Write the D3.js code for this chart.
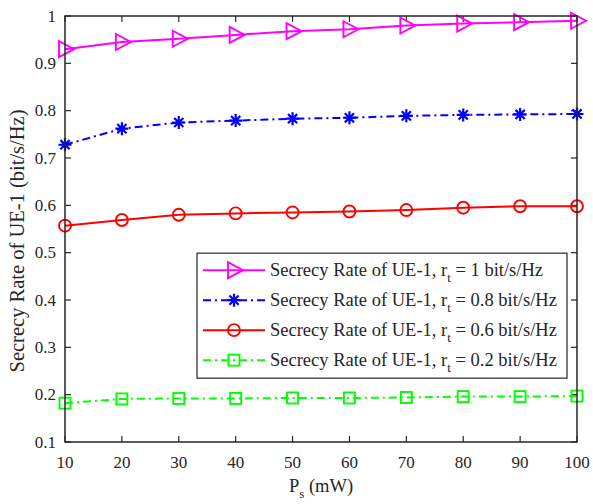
<!DOCTYPE html>
<html>
<head>
<meta charset="utf-8">
<script src="https://cdn.jsdelivr.net/npm/d3@7"></script>
<style>
  body { margin: 0; background: #fff; }
  text { font-family: "Liberation Serif", "Times New Roman", serif; fill: #262626; }
</style>
</head>
<body>
<svg id="chart" width="593" height="504"></svg>
<script>
var power = [10, 20, 30, 40, 50, 60, 70, 80, 90, 100]
var rate1 = [0.930, 0.945, 0.952, 0.960, 0.968, 0.972, 0.980, 0.984, 0.987, 0.990]
var rate08 = [0.728, 0.762, 0.775, 0.779, 0.783, 0.785, 0.789, 0.791, 0.792, 0.793]
var rate06 = [0.557, 0.569, 0.580, 0.583, 0.585, 0.587, 0.590, 0.595, 0.598, 0.598]
var rate02 = [0.182, 0.191, 0.192, 0.192, 0.193, 0.193, 0.194, 0.196, 0.196, 0.197]
var xTicks = [10, 20, 30, 40, 50, 60, 70, 80, 90, 100]
var yTicks = [0.1, 0.2, 0.3, 0.4, 0.5, 0.6, 0.7, 0.8, 0.9, 1]
var rtLabels = ['1', '0.8', '0.6', '0.2']

var series = [
  {vals: rate1, rt: rtLabels[0], color: '#ff00ff', dash: null, marker: 'tri'},
  {vals: rate08, rt: rtLabels[1], color: '#0000ff', dash: '8,4,2,4', marker: 'star'},
  {vals: rate06, rt: rtLabels[2], color: '#ff0000', dash: null, marker: 'circle'},
  {vals: rate02, rt: rtLabels[3], color: '#00ff00', dash: '8,4,2,4', marker: 'square'},
]

var margin = {left: 65, right: 16, top: 16, bottom: 62}
var width = 593 - margin.left - margin.right
var height = 504 - margin.top - margin.bottom

var svg = d3.select('#chart')
var g = svg.append('g').attr('transform', `translate(${margin.left},${margin.top})`)

var x = d3.scaleLinear().domain([10, 100]).range([0, width])
var y = d3.scaleLinear().domain([0.1, 1]).range([height, 0])

var axisColor = '#262626'

// ticks inward on all sides
var tl = 6
xTicks.forEach(t => {
  g.append('line').attr('x1', x(t)).attr('x2', x(t)).attr('y1', height).attr('y2', height - tl).attr('stroke', axisColor).attr('stroke-width', 1.2)
  g.append('line').attr('x1', x(t)).attr('x2', x(t)).attr('y1', 0).attr('y2', tl).attr('stroke', axisColor).attr('stroke-width', 1.2)
  g.append('text').attr('x', x(t)).attr('y', height + 26).attr('text-anchor', 'middle')
    .style('font-size', '17px').text(t)
})
yTicks.forEach(t => {
  g.append('line').attr('x1', 0).attr('x2', tl).attr('y1', y(t)).attr('y2', y(t)).attr('stroke', axisColor).attr('stroke-width', 1.2)
  g.append('line').attr('x1', width).attr('x2', width - tl).attr('y1', y(t)).attr('y2', y(t)).attr('stroke', axisColor).attr('stroke-width', 1.2)
  g.append('text').attr('x', -9).attr('y', y(t)).attr('dy', '0.33em').attr('text-anchor', 'end')
    .style('font-size', '17px').text(t)
})

var line = d3.line().x((d, i) => x(power[i])).y(d => y(d))

function drawMarker(sel, type, color, cx, cy) {
  if (type == 'tri') {
    sel.append('path').attr('d', `M${cx - 6},${cy - 8} L${cx + 9},${cy} L${cx - 6},${cy + 8} Z`)
      .attr('fill', 'none').attr('stroke', color).attr('stroke-width', 1.9)
  } else if (type == 'star') {
    var r = 6.5
    var p = ''
    ;[0, 45, 90, 135].forEach(a => {
      var rad = a * Math.PI / 180
      p += `M${cx - r * Math.cos(rad)},${cy - r * Math.sin(rad)} L${cx + r * Math.cos(rad)},${cy + r * Math.sin(rad)} `
    })
    sel.append('path').attr('d', p).attr('stroke', color).attr('stroke-width', 2.2)
  } else if (type == 'circle') {
    sel.append('circle').attr('cx', cx).attr('cy', cy).attr('r', 6)
      .attr('fill', 'none').attr('stroke', color).attr('stroke-width', 1.9)
  } else if (type == 'square') {
    sel.append('rect').attr('x', cx - 5.5).attr('y', cy - 5.5).attr('width', 11).attr('height', 11)
      .attr('fill', 'none').attr('stroke', color).attr('stroke-width', 1.9)
  }
}

series.forEach(s => {
  g.append('path').datum(s.vals).attr('d', line)
    .attr('fill', 'none').attr('stroke', s.color).attr('stroke-width', 2)
    .attr('stroke-dasharray', s.dash)
  s.vals.forEach((v, i) => drawMarker(g, s.marker, s.color, x(power[i]), y(v)))
})

// box
g.append('rect').attr('width', width).attr('height', height)
  .attr('fill', 'none').attr('stroke', axisColor).attr('stroke-width', 1.5)

// legend
var lg = g.append('g').attr('transform', `translate(${x(10) + 132},${y(0.5) + 0.5})`)
lg.append('rect').attr('width', 370).attr('height', 125)
  .attr('fill', '#fff').attr('stroke', axisColor).attr('stroke-width', 1.2)
series.forEach((s, i) => {
  var ly = 17 + i * 30
  lg.append('line').attr('x1', 6).attr('x2', 68).attr('y1', ly).attr('y2', ly)
    .attr('stroke', s.color).attr('stroke-width', 2).attr('stroke-dasharray', s.dash)
  drawMarker(lg, s.marker, s.color, 37, ly)
  var t = lg.append('text').attr('x', 73).attr('y', ly + 6).style('font-size', '18.5px')
  t.append('tspan').text('Secrecy Rate of UE-1, r')
  t.append('tspan').attr('dy', 6).style('font-size', '13px').text('t')
  t.append('tspan').attr('dy', -6).text(` = ${s.rt} bit/s/Hz`)
})

// axis labels
var xl = svg.append('text').attr('x', margin.left + width / 2).attr('y', 492)
  .attr('text-anchor', 'middle').style('font-size', '18.5px')
xl.append('tspan').text('P')
xl.append('tspan').attr('dy', 6).style('font-size', '13px').text('s')
xl.append('tspan').attr('dy', -6).text(' (mW)')

svg.append('text').attr('transform', `translate(24,241) rotate(-90)`)
  .attr('text-anchor', 'middle').style('font-size', '20.5px')
  .text('Secrecy Rate of UE-1 (bit/s/Hz)')
</script>
</body>
</html>
